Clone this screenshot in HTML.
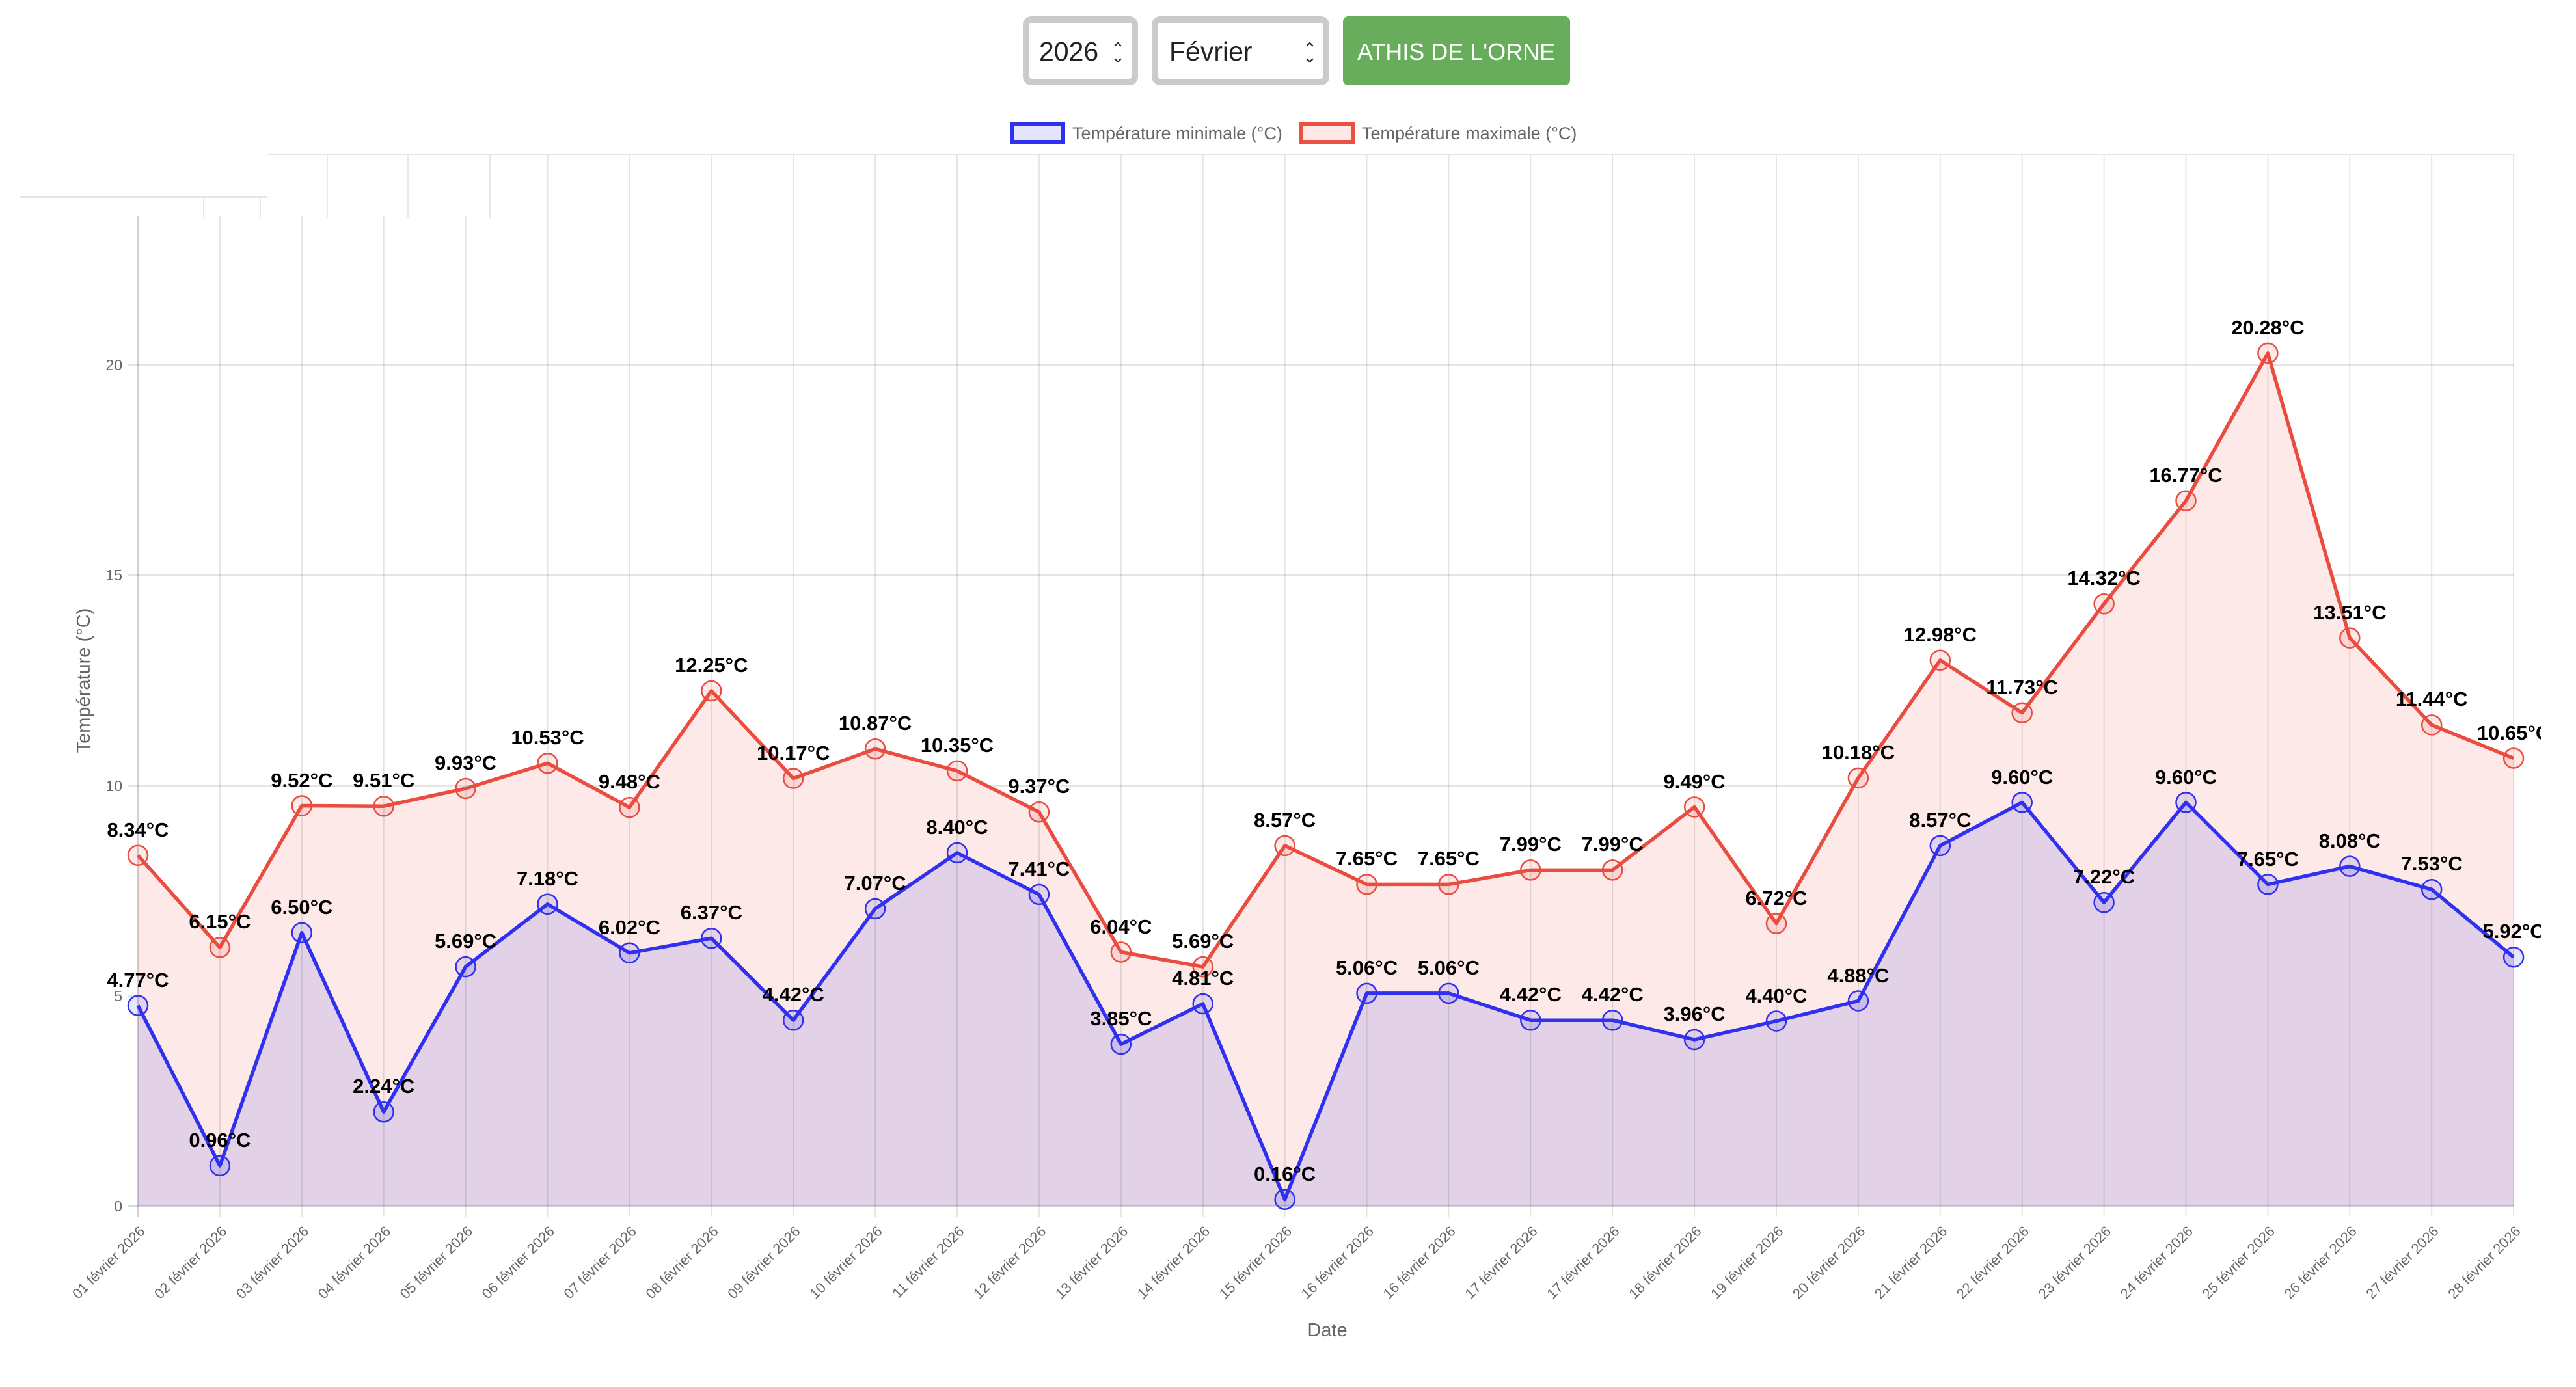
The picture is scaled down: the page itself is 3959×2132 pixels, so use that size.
<!DOCTYPE html>
<html><head><meta charset="utf-8"><style>
html,body{margin:0;padding:0;background:#fff;width:3959px;height:2132px;overflow:hidden}
svg{display:block}
text{font-family:"Liberation Sans",Arial,sans-serif}
.yt{font-size:23px;fill:#666;text-anchor:end}
.xt{font-size:22px;fill:#666;text-anchor:end}
.dl{font-size:31px;font-weight:bold;fill:#000;text-anchor:middle}
</style></head><body>
<svg width="3959" height="2132" viewBox="0 0 3959 2132" xmlns="http://www.w3.org/2000/svg">
<defs><clipPath id="c"><rect x="0" y="0" width="3905" height="2132"/></clipPath></defs>
<!-- controls -->
<rect x="1577" y="30" width="167" height="96" rx="8" fill="#fff" stroke="#cbcbcb" stroke-width="10"/>
<text x="1597" y="93" font-size="41" fill="#222">2026</text>
<text x="1718" y="84" font-size="26" fill="#222" text-anchor="middle">⌃</text>
<text x="1718" y="96" font-size="26" fill="#222" text-anchor="middle">⌄</text>
<rect x="1775" y="30" width="263" height="96" rx="8" fill="#fff" stroke="#cbcbcb" stroke-width="10"/>
<text x="1797" y="93" font-size="41" fill="#222">Février</text>
<text x="2013" y="84" font-size="26" fill="#222" text-anchor="middle">⌃</text>
<text x="2013" y="96" font-size="26" fill="#222" text-anchor="middle">⌄</text>
<rect x="2064" y="25" width="349" height="106" rx="8" fill="#68ad5c"/>
<text x="2238" y="92" font-size="36" fill="#fff" text-anchor="middle">ATHIS DE L'ORNE</text>
<!-- legend -->
<rect x="1556" y="190" width="78" height="28" fill="#e5e5fd" stroke="#3030f0" stroke-width="6"/>
<text x="1648" y="214" font-size="27" fill="#666">Température minimale (°C)</text>
<rect x="1999" y="190" width="80" height="28" fill="#fde8e8" stroke="#ea5044" stroke-width="6"/>
<text x="2093" y="214" font-size="27" fill="#666">Température maximale (°C)</text>
<!-- horizontal grid -->
<g stroke="#e5e5e5" stroke-width="2">
<line x1="196" y1="238" x2="3864" y2="238"/>
<line x1="196" y1="561" x2="3864" y2="561"/>
<line x1="196" y1="884" x2="3864" y2="884"/>
<line x1="196" y1="1208" x2="3864" y2="1208"/>
<line x1="196" y1="1531" x2="3864" y2="1531"/>
</g>
<!-- fills -->
<polygon fill="#fde9e8" points="212,1854 212,1314.8 337.9,1456.4 463.8,1238.5 589.7,1239.2 715.6,1212 841.5,1173.2 967.4,1241.1 1093.3,1062 1219.2,1196.5 1345.1,1151.3 1471,1184.9 1596.9,1248.2 1722.8,1463.5 1848.7,1486.1 1974.6,1299.9 2100.5,1359.4 2226.4,1359.4 2352.3,1337.4 2478.2,1337.4 2604.1,1240.5 2730,1419.6 2855.9,1195.9 2981.8,1014.8 3107.7,1095.7 3233.6,928.2 3359.5,769.8 3485.4,542.9 3611.3,980.6 3737.2,1114.4 3863.1,1165.5 3863.1,1854"/>
<polygon fill="#e2d1e7" points="212,1854 212,1545.6 337.9,1791.9 463.8,1433.8 589.7,1709.2 715.6,1486.1 841.5,1389.8 967.4,1464.8 1093.3,1442.2 1219.2,1568.2 1345.1,1396.9 1471,1310.9 1596.9,1374.9 1722.8,1605.1 1848.7,1543 1974.6,1843.7 2100.5,1526.9 2226.4,1526.9 2352.3,1568.2 2478.2,1568.2 2604.1,1598 2730,1569.5 2855.9,1538.5 2981.8,1299.9 3107.7,1233.4 3233.6,1387.2 3359.5,1233.4 3485.4,1359.4 3611.3,1331.6 3737.2,1367.2 3863.1,1471.3 3863.1,1854"/>
<!-- vertical grid -->
<g stroke="rgba(0,0,0,0.1)" stroke-width="2">
<line x1="212" y1="238" x2="212" y2="1871" stroke="rgba(0,0,0,0.18)"/>
<line x1="337.9" y1="238" x2="337.9" y2="1871"/><line x1="463.8" y1="238" x2="463.8" y2="1871"/><line x1="589.7" y1="238" x2="589.7" y2="1871"/><line x1="715.6" y1="238" x2="715.6" y2="1871"/><line x1="841.5" y1="238" x2="841.5" y2="1871"/><line x1="967.4" y1="238" x2="967.4" y2="1871"/><line x1="1093.3" y1="238" x2="1093.3" y2="1871"/><line x1="1219.2" y1="238" x2="1219.2" y2="1871"/><line x1="1345.1" y1="238" x2="1345.1" y2="1871"/><line x1="1471" y1="238" x2="1471" y2="1871"/><line x1="1596.9" y1="238" x2="1596.9" y2="1871"/><line x1="1722.8" y1="238" x2="1722.8" y2="1871"/><line x1="1848.7" y1="238" x2="1848.7" y2="1871"/><line x1="1974.6" y1="238" x2="1974.6" y2="1871"/><line x1="2100.5" y1="238" x2="2100.5" y2="1871"/><line x1="2226.4" y1="238" x2="2226.4" y2="1871"/><line x1="2352.3" y1="238" x2="2352.3" y2="1871"/><line x1="2478.2" y1="238" x2="2478.2" y2="1871"/><line x1="2604.1" y1="238" x2="2604.1" y2="1871"/><line x1="2730" y1="238" x2="2730" y2="1871"/><line x1="2855.9" y1="238" x2="2855.9" y2="1871"/><line x1="2981.8" y1="238" x2="2981.8" y2="1871"/><line x1="3107.7" y1="238" x2="3107.7" y2="1871"/><line x1="3233.6" y1="238" x2="3233.6" y2="1871"/><line x1="3359.5" y1="238" x2="3359.5" y2="1871"/><line x1="3485.4" y1="238" x2="3485.4" y2="1871"/><line x1="3611.3" y1="238" x2="3611.3" y2="1871"/><line x1="3737.2" y1="238" x2="3737.2" y2="1871"/><line x1="3863.1" y1="238" x2="3863.1" y2="1871"/>
</g>
<line x1="196" y1="1854" x2="3864" y2="1854" stroke="rgba(0,0,0,0.15)" stroke-width="3"/>
<!-- top-left artifact -->
<rect x="0" y="232" width="760" height="100" fill="#fff"/>
<line x1="30" y1="303" x2="410" y2="303" stroke="#e5e5e5" stroke-width="3"/>
<g stroke="#e8e8e8" stroke-width="2"><line x1="313" y1="303" x2="313" y2="335"/><line x1="400" y1="303" x2="400" y2="335"/><line x1="503" y1="238" x2="503" y2="335"/><line x1="627" y1="238" x2="627" y2="335"/><line x1="753" y1="238" x2="753" y2="335"/></g>
<line x1="410" y1="238" x2="760" y2="238" stroke="#e5e5e5" stroke-width="2"/>
<!-- y ticks -->
<text class="yt" x="188" y="569">20</text>
<text class="yt" x="188" y="892">15</text>
<text class="yt" x="188" y="1216">10</text>
<text class="yt" x="188" y="1539">5</text>
<text class="yt" x="188" y="1862">0</text>
<text x="128" y="1046" font-size="29" fill="#666" text-anchor="middle" transform="rotate(-90 128 1046)" dy="10">Température (°C)</text>
<!-- lines -->
<polyline fill="none" stroke="#ea4c40" stroke-width="5.5" stroke-linejoin="round" points="212,1314.8 337.9,1456.4 463.8,1238.5 589.7,1239.2 715.6,1212 841.5,1173.2 967.4,1241.1 1093.3,1062 1219.2,1196.5 1345.1,1151.3 1471,1184.9 1596.9,1248.2 1722.8,1463.5 1848.7,1486.1 1974.6,1299.9 2100.5,1359.4 2226.4,1359.4 2352.3,1337.4 2478.2,1337.4 2604.1,1240.5 2730,1419.6 2855.9,1195.9 2981.8,1014.8 3107.7,1095.7 3233.6,928.2 3359.5,769.8 3485.4,542.9 3611.3,980.6 3737.2,1114.4 3863.1,1165.5"/>
<polyline fill="none" stroke="#3030f0" stroke-width="5.5" stroke-linejoin="round" points="212,1545.6 337.9,1791.9 463.8,1433.8 589.7,1709.2 715.6,1486.1 841.5,1389.8 967.4,1464.8 1093.3,1442.2 1219.2,1568.2 1345.1,1396.9 1471,1310.9 1596.9,1374.9 1722.8,1605.1 1848.7,1543 1974.6,1843.7 2100.5,1526.9 2226.4,1526.9 2352.3,1568.2 2478.2,1568.2 2604.1,1598 2730,1569.5 2855.9,1538.5 2981.8,1299.9 3107.7,1233.4 3233.6,1387.2 3359.5,1233.4 3485.4,1359.4 3611.3,1331.6 3737.2,1367.2 3863.1,1471.3"/>
<!-- points -->
<g fill="rgba(234,76,64,0.12)" stroke="#ea4c40" stroke-width="2.5">
<circle cx="212" cy="1314.8" r="15"/><circle cx="337.9" cy="1456.4" r="15"/><circle cx="463.8" cy="1238.5" r="15"/><circle cx="589.7" cy="1239.2" r="15"/><circle cx="715.6" cy="1212" r="15"/><circle cx="841.5" cy="1173.2" r="15"/><circle cx="967.4" cy="1241.1" r="15"/><circle cx="1093.3" cy="1062" r="15"/><circle cx="1219.2" cy="1196.5" r="15"/><circle cx="1345.1" cy="1151.3" r="15"/><circle cx="1471" cy="1184.9" r="15"/><circle cx="1596.9" cy="1248.2" r="15"/><circle cx="1722.8" cy="1463.5" r="15"/><circle cx="1848.7" cy="1486.1" r="15"/><circle cx="1974.6" cy="1299.9" r="15"/><circle cx="2100.5" cy="1359.4" r="15"/><circle cx="2226.4" cy="1359.4" r="15"/><circle cx="2352.3" cy="1337.4" r="15"/><circle cx="2478.2" cy="1337.4" r="15"/><circle cx="2604.1" cy="1240.5" r="15"/><circle cx="2730" cy="1419.6" r="15"/><circle cx="2855.9" cy="1195.9" r="15"/><circle cx="2981.8" cy="1014.8" r="15"/><circle cx="3107.7" cy="1095.7" r="15"/><circle cx="3233.6" cy="928.2" r="15"/><circle cx="3359.5" cy="769.8" r="15"/><circle cx="3485.4" cy="542.9" r="15"/><circle cx="3611.3" cy="980.6" r="15"/><circle cx="3737.2" cy="1114.4" r="15"/><circle cx="3863.1" cy="1165.5" r="15"/>
</g>
<g fill="rgba(48,48,240,0.12)" stroke="#3030f0" stroke-width="2.5">
<circle cx="212" cy="1545.6" r="15"/><circle cx="337.9" cy="1791.9" r="15"/><circle cx="463.8" cy="1433.8" r="15"/><circle cx="589.7" cy="1709.2" r="15"/><circle cx="715.6" cy="1486.1" r="15"/><circle cx="841.5" cy="1389.8" r="15"/><circle cx="967.4" cy="1464.8" r="15"/><circle cx="1093.3" cy="1442.2" r="15"/><circle cx="1219.2" cy="1568.2" r="15"/><circle cx="1345.1" cy="1396.9" r="15"/><circle cx="1471" cy="1310.9" r="15"/><circle cx="1596.9" cy="1374.9" r="15"/><circle cx="1722.8" cy="1605.1" r="15"/><circle cx="1848.7" cy="1543" r="15"/><circle cx="1974.6" cy="1843.7" r="15"/><circle cx="2100.5" cy="1526.9" r="15"/><circle cx="2226.4" cy="1526.9" r="15"/><circle cx="2352.3" cy="1568.2" r="15"/><circle cx="2478.2" cy="1568.2" r="15"/><circle cx="2604.1" cy="1598" r="15"/><circle cx="2730" cy="1569.5" r="15"/><circle cx="2855.9" cy="1538.5" r="15"/><circle cx="2981.8" cy="1299.9" r="15"/><circle cx="3107.7" cy="1233.4" r="15"/><circle cx="3233.6" cy="1387.2" r="15"/><circle cx="3359.5" cy="1233.4" r="15"/><circle cx="3485.4" cy="1359.4" r="15"/><circle cx="3611.3" cy="1331.6" r="15"/><circle cx="3737.2" cy="1367.2" r="15"/><circle cx="3863.1" cy="1471.3" r="15"/>
</g>
<!-- data labels -->
<g clip-path="url(#c)">
<text class="dl" x="212" y="1286">8.34°C</text><text class="dl" x="337.9" y="1427">6.15°C</text><text class="dl" x="463.8" y="1210">9.52°C</text><text class="dl" x="589.7" y="1210">9.51°C</text><text class="dl" x="715.6" y="1183">9.93°C</text><text class="dl" x="841.5" y="1144">10.53°C</text><text class="dl" x="967.4" y="1212">9.48°C</text><text class="dl" x="1093.3" y="1033">12.25°C</text><text class="dl" x="1219.2" y="1168">10.17°C</text><text class="dl" x="1345.1" y="1122">10.87°C</text><text class="dl" x="1471" y="1156">10.35°C</text><text class="dl" x="1596.9" y="1219">9.37°C</text><text class="dl" x="1722.8" y="1435">6.04°C</text><text class="dl" x="1848.7" y="1457">5.69°C</text><text class="dl" x="1974.6" y="1271">8.57°C</text><text class="dl" x="2100.5" y="1330">7.65°C</text><text class="dl" x="2226.4" y="1330">7.65°C</text><text class="dl" x="2352.3" y="1308">7.99°C</text><text class="dl" x="2478.2" y="1308">7.99°C</text><text class="dl" x="2604.1" y="1212">9.49°C</text><text class="dl" x="2730" y="1391">6.72°C</text><text class="dl" x="2855.9" y="1167">10.18°C</text><text class="dl" x="2981.8" y="986">12.98°C</text><text class="dl" x="3107.7" y="1067">11.73°C</text><text class="dl" x="3233.6" y="899">14.32°C</text><text class="dl" x="3359.5" y="741">16.77°C</text><text class="dl" x="3485.4" y="514">20.28°C</text><text class="dl" x="3611.3" y="952">13.51°C</text><text class="dl" x="3737.2" y="1085">11.44°C</text><text class="dl" x="3863.1" y="1137">10.65°C</text>
<text class="dl" x="212" y="1517">4.77°C</text><text class="dl" x="337.9" y="1763">0.96°C</text><text class="dl" x="463.8" y="1405">6.50°C</text><text class="dl" x="589.7" y="1680">2.24°C</text><text class="dl" x="715.6" y="1457">5.69°C</text><text class="dl" x="841.5" y="1361">7.18°C</text><text class="dl" x="967.4" y="1436">6.02°C</text><text class="dl" x="1093.3" y="1413">6.37°C</text><text class="dl" x="1219.2" y="1539">4.42°C</text><text class="dl" x="1345.1" y="1368">7.07°C</text><text class="dl" x="1471" y="1282">8.40°C</text><text class="dl" x="1596.9" y="1346">7.41°C</text><text class="dl" x="1722.8" y="1576">3.85°C</text><text class="dl" x="1848.7" y="1514">4.81°C</text><text class="dl" x="1974.6" y="1815">0.16°C</text><text class="dl" x="2100.5" y="1498">5.06°C</text><text class="dl" x="2226.4" y="1498">5.06°C</text><text class="dl" x="2352.3" y="1539">4.42°C</text><text class="dl" x="2478.2" y="1539">4.42°C</text><text class="dl" x="2604.1" y="1569">3.96°C</text><text class="dl" x="2730" y="1541">4.40°C</text><text class="dl" x="2855.9" y="1510">4.88°C</text><text class="dl" x="2981.8" y="1271">8.57°C</text><text class="dl" x="3107.7" y="1205">9.60°C</text><text class="dl" x="3233.6" y="1358">7.22°C</text><text class="dl" x="3359.5" y="1205">9.60°C</text><text class="dl" x="3485.4" y="1331">7.65°C</text><text class="dl" x="3611.3" y="1303">8.08°C</text><text class="dl" x="3737.2" y="1338">7.53°C</text><text class="dl" x="3863.1" y="1442">5.92°C</text>
</g>
<!-- x labels -->
<text class="xt" transform="translate(224,1894) rotate(-45)">01 février 2026</text>
<text class="xt" transform="translate(349.9,1894) rotate(-45)">02 février 2026</text>
<text class="xt" transform="translate(475.8,1894) rotate(-45)">03 février 2026</text>
<text class="xt" transform="translate(601.7,1894) rotate(-45)">04 février 2026</text>
<text class="xt" transform="translate(727.6,1894) rotate(-45)">05 février 2026</text>
<text class="xt" transform="translate(853.5,1894) rotate(-45)">06 février 2026</text>
<text class="xt" transform="translate(979.4,1894) rotate(-45)">07 février 2026</text>
<text class="xt" transform="translate(1105.3,1894) rotate(-45)">08 février 2026</text>
<text class="xt" transform="translate(1231.2,1894) rotate(-45)">09 février 2026</text>
<text class="xt" transform="translate(1357.1,1894) rotate(-45)">10 février 2026</text>
<text class="xt" transform="translate(1483,1894) rotate(-45)">11 février 2026</text>
<text class="xt" transform="translate(1608.9,1894) rotate(-45)">12 février 2026</text>
<text class="xt" transform="translate(1734.8,1894) rotate(-45)">13 février 2026</text>
<text class="xt" transform="translate(1860.7,1894) rotate(-45)">14 février 2026</text>
<text class="xt" transform="translate(1986.6,1894) rotate(-45)">15 février 2026</text>
<text class="xt" transform="translate(2112.5,1894) rotate(-45)">16 février 2026</text>
<text class="xt" transform="translate(2238.4,1894) rotate(-45)">16 février 2026</text>
<text class="xt" transform="translate(2364.3,1894) rotate(-45)">17 février 2026</text>
<text class="xt" transform="translate(2490.2,1894) rotate(-45)">17 février 2026</text>
<text class="xt" transform="translate(2616.1,1894) rotate(-45)">18 février 2026</text>
<text class="xt" transform="translate(2742,1894) rotate(-45)">19 février 2026</text>
<text class="xt" transform="translate(2867.9,1894) rotate(-45)">20 février 2026</text>
<text class="xt" transform="translate(2993.8,1894) rotate(-45)">21 février 2026</text>
<text class="xt" transform="translate(3119.7,1894) rotate(-45)">22 février 2026</text>
<text class="xt" transform="translate(3245.6,1894) rotate(-45)">23 février 2026</text>
<text class="xt" transform="translate(3371.5,1894) rotate(-45)">24 février 2026</text>
<text class="xt" transform="translate(3497.4,1894) rotate(-45)">25 février 2026</text>
<text class="xt" transform="translate(3623.3,1894) rotate(-45)">26 février 2026</text>
<text class="xt" transform="translate(3749.2,1894) rotate(-45)">27 février 2026</text>
<text class="xt" transform="translate(3875.1,1894) rotate(-45)">28 février 2026</text>
<text x="2040" y="2054" font-size="29" fill="#666" text-anchor="middle">Date</text>
</svg>
</body></html>
